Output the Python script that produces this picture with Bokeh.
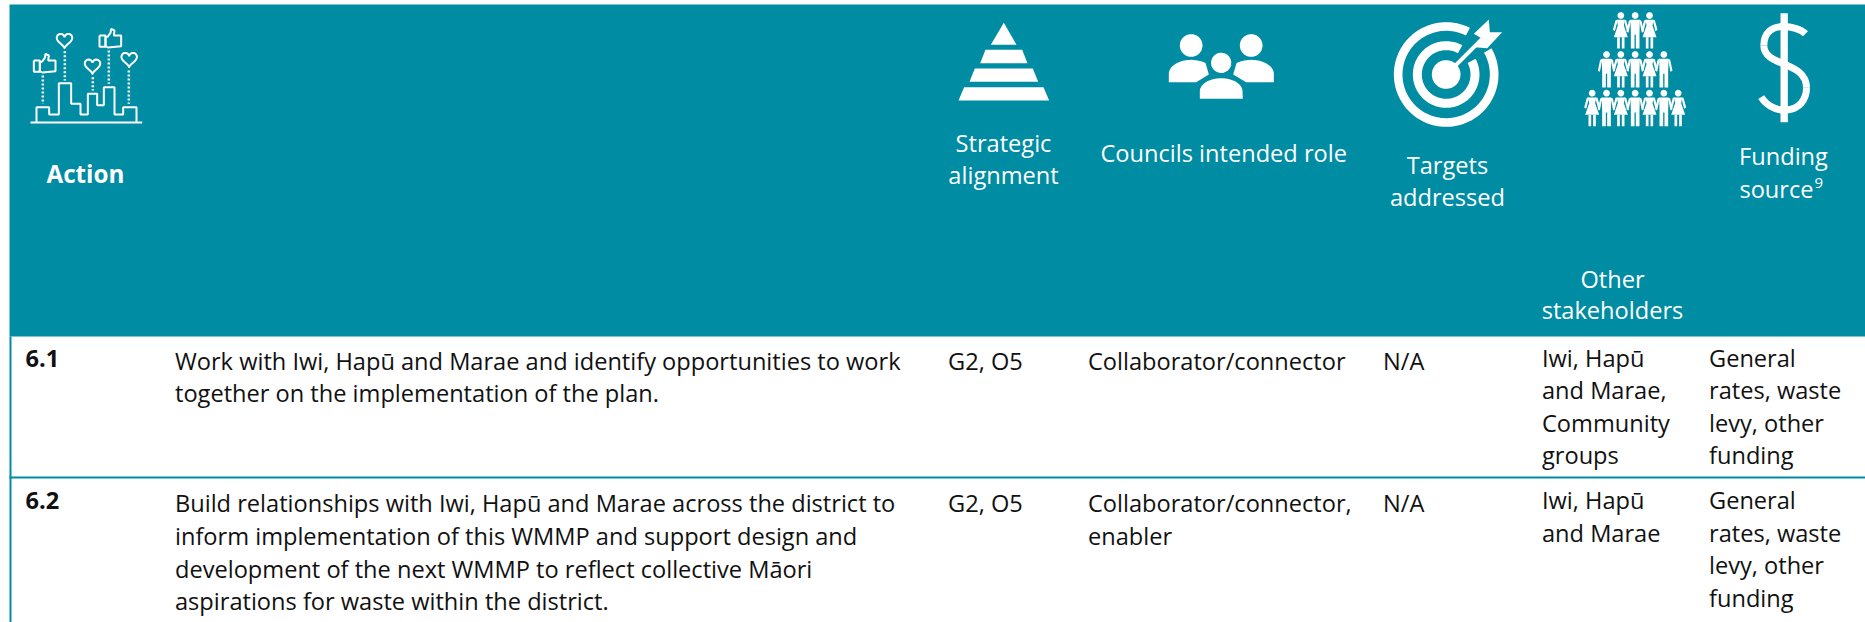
import numpy as np
from bokeh.plotting import figure
from bokeh.models import Range1d
from bokeh.embed import file_html
from bokeh.resources import INLINE
from bokeh.core.properties import value

TEAL = "#008CA3"
INK = "#111111"
FONT = "Open Sans"

actions = ["6.1", "6.2"]
action_lines = [
    ["Work with Iwi, Hapū and Marae and identify opportunities to work",
     "together on the implementation of the plan."],
    ["Build relationships with Iwi, Hapū and Marae across the district to",
     "inform implementation of this WMMP and support design and",
     "development of the next WMMP to reflect collective Māori",
     "aspirations for waste within the district."],
]
alignment = ["G2, O5", "G2, O5"]
roles = [["Collaborator/connector"], ["Collaborator/connector,", "enabler"]]
targets = ["N/A", "N/A"]
stakeholders = [["Iwi, Hapū", "and Marae,", "Community", "groups"], ["Iwi, Hapū", "and Marae"]]
funding = [["General", "rates, waste", "levy, other", "funding"], ["General", "rates, waste", "levy, other", "funding"]]

W, H = 1865, 622
p = figure(width=W, height=H, x_range=Range1d(0, W), y_range=Range1d(H, 0),
           output_backend="svg", toolbar_location=None, min_border=0,
           outline_line_color=None, background_fill_color="white")
p.axis.visible = False
p.grid.visible = False

BODY = 23.6


def txt(x, y, s, size=BODY, color=INK, align="left", bold=False):
    p.text([x], [y - 0.36 * size], text=[s], text_font=value(FONT), text_font_size=f"{size}px",
           text_color=color, text_align=align, text_baseline="alphabetic",
           text_font_style="bold" if bold else "normal")


# header band and rules
p.quad(left=[9], right=[W], top=[4], bottom=[336], fill_color=TEAL, line_color=None)
p.quad(left=[9], right=[11], top=[336], bottom=[H], fill_color=TEAL, line_color=None)
p.quad(left=[9], right=[W], top=[476], bottom=[478], fill_color=TEAL, line_color=None)

# header texts
txt(46, 182, "Action", bold=True, color="white", size=24.2)
for x, y, s in [(1003, 151, "Strategic"), (1003, 183, "alignment"),
                (1447, 173, "Targets"), (1447, 205, "addressed"),
                (1612, 287, "Other"), (1612, 318, "stakeholders"),
                (1783, 164, "Funding")]:
    txt(x, y, s, color="white", align="center")
txt(1100, 161, "Councils intended role", color="white")
txt(1813, 197, "source", color="white", align="right")
txt(1814, 188, "9", color="white", size=15)

# body
for base, num in zip([366, 508], actions):
    txt(25, base, num, bold=True)
for first, lines in zip([368.5, 511], action_lines):
    for i, s in enumerate(lines):
        txt(174.5, first + i * 32.8, s)
for base, a, r, t in zip([368.5, 511], alignment, roles, targets):
    txt(947.5, base, a)
    for i, s in enumerate(r):
        txt(1087.5, base + i * 32.8, s)
    txt(1382.5, base, t)
for base, st, fu in zip([365.5, 508], stakeholders, funding):
    for i, s in enumerate(st):
        txt(1541.5, base + i * 32.6, s)
    for i, s in enumerate(fu):
        txt(1708.5, base + i * 32.6, s)


# ---- pictograms: outlines are given in the crop coordinates of each icon
def Z(ox, oy, pts):
    a = np.array(pts, float)
    return ox + a[:, 0] / 3, oy + a[:, 1] / 3


def fill(ox, oy, pts, color="white", lc=None, lw=0):
    x, y = Z(ox, oy, pts)
    p.patch(x, y, fill_color=color, line_color=lc, line_width=lw)


def stroke(ox, oy, pts, lw=2, dash="solid", color="white"):
    x, y = Z(ox, oy, pts)
    p.line(x, y, line_color=color, line_width=lw, line_dash=dash)


def disc(ox, oy, cx, cy, r, color="white", lc=None, lw=0):
    t = np.linspace(0, 2 * np.pi, 60)
    fill(ox, oy, np.c_[cx + r * np.cos(t), cy + r * np.sin(t)], color, lc, lw)


def ring(ox, oy, cx, cy, r0, r1, a0, a1):
    t = np.radians(np.linspace(a0, a1, 120))
    o = np.c_[cx + r1 * np.cos(t), cy + r1 * np.sin(t)]
    i = np.c_[cx + r0 * np.cos(t[::-1]), cy + r0 * np.sin(t[::-1])]
    fill(ox, oy, np.r_[o, i])


def arc(cx, cy, a, b, t0, t1, n=24):
    t = np.radians(np.linspace(t0, t1, n))
    return [(cx + a * np.cos(v), cy - b * np.sin(v)) for v in t]


# Action icon
A = (0, 0)
stroke(*A, [(90, 366), (425, 366)], lw=2)
stroke(*A, [(108, 366), (108, 320), (146, 320), (146, 342), (175, 342), (175, 248), (212, 248),
            (212, 310), (240, 310), (240, 342), (262, 342), (262, 280), (290, 280), (290, 314),
            (310, 314), (310, 260), (342, 260), (342, 342), (368, 342), (368, 320), (408, 320),
            (408, 366)], lw=2)
for x, y0, y1 in [(127, 225, 310), (193, 152, 240), (277, 230, 270), (325, 150, 250), (385, 210, 310)]:
    stroke(*A, [(x, y0), (x, y1)], lw=2.5, dash="2 2")
for cx, cy in [(192, 118), (276, 195), (386, 175)]:
    t = np.linspace(0, 2 * np.pi, 50)
    hx = 1.55 * np.sin(t) ** 3
    hy = -(1.3 * np.cos(t) - 0.5 * np.cos(2 * t) - 0.2 * np.cos(3 * t) - 0.1 * np.cos(4 * t))
    stroke(*A, np.c_[cx + 15 * hx, cy + 15 * hy], lw=2)
thumb = np.array([(118, 185), (125, 183), (133, 172), (135, 160), (145, 165), (143, 180), (165, 180),
                  (165, 212), (125, 216), (118, 212), (118, 185)], float)
square = np.array([(100, 180), (118, 180), (118, 214), (100, 214), (100, 180)], float)
for dx, dy in [(0, 0), (197, -75)]:
    stroke(*A, thumb + (dx, dy), lw=2)
    stroke(*A, square + (dx, dy), lw=2)

# pyramid
B = (930, 0)
fill(*B, [(220, 67), (258, 133), (181, 133)])
for y0, y1, a, b in [(148, 188, 165, 149), (204, 244, 133, 117), (260, 300, 101, 84)]:
    fill(*B, [(a, y0), (440 - a, y0), (440 - b, y1), (b, y1)])

# three people
disc(*B, 782, 135, 34)
disc(*B, 962, 135, 34)
left_body = [(715, 245)] + arc(782, 220, 67, 42, 180, 50) + [(835, 222), (797, 245)]
right_body = [(1030, 245)] + arc(962, 220, 68, 42, 0, 130) + [(908, 222), (947, 245)]
fill(*B, left_body)
fill(*B, right_body)
disc(*B, 872, 187, 34, lc=TEAL, lw=2.5)
fill(*B, [(805, 298)] + arc(872, 272, 67, 42, 180, 0) + [(940, 298)], lc=TEAL, lw=2)

# target
C = (1380, 0)
ring(*C, 197, 222, 131, 157, -30, 297)
ring(*C, 197, 222, 73, 100, -28, 299)
disc(*C, 197, 222, 43)
stroke(*C, [(215, 205), (305, 115)], lw=4)
fill(*C, [(280, 100), (325, 57), (328, 95), (365, 95), (320, 143), (282, 140), (305, 115)])


# crowd
def person(cx, hy, female):
    disc(*C, cx, hy, 10)
    if female:
        fill(*C, [(cx - 12, hy + 13), (cx + 12, hy + 13), (cx + 9, hy + 30), (cx + 21, hy + 65), (cx - 21, hy + 65), (cx - 9, hy + 30)])
        for s in (-1, 1):
            fill(*C, [(cx + s * 3, hy + 65), (cx + s * 11, hy + 65), (cx + s * 11, hy + 99), (cx + s * 3, hy + 99)])
            fill(*C, [(cx + s * 9, hy + 13), (cx + s * 16, hy + 14), (cx + s * 24, hy + 43), (cx + s * 18, hy + 47)])
    else:
        fill(*C, [(cx - 14, hy + 13), (cx + 14, hy + 13), (cx + 13, hy + 55), (cx + 13, hy + 99), (cx + 2, hy + 99),
                  (cx + 2, hy + 58), (cx - 2, hy + 58), (cx - 2, hy + 99), (cx - 13, hy + 99), (cx - 13, hy + 55)])
        for s in (-1, 1):
            fill(*C, [(cx + s * 12, hy + 13), (cx + s * 19, hy + 16), (cx + s * 26, hy + 49), (cx + s * 20, hy + 52)])


for hy, xs, first_f in [(45, [721, 764, 807], True), (162, [678, 721, 764, 807, 850], False),
                        (278, [635, 678, 721, 764, 807, 850, 893], True)]:
    for i, x in enumerate(xs):
        person(x, hy, (i % 2 == 0) == first_f)

# dollar
fill(*C, [(1200, 38), (1222, 38), (1222, 365), (1200, 365)])
bez = [((1275, 100), (1250, 75), (1150, 55), (1150, 135)),
       ((1150, 135), (1150, 200), (1278, 180), (1278, 262)),
       ((1278, 262), (1278, 340), (1180, 350), (1142, 290))]
for a, c0, c1, b in bez:
    xa, ya = Z(*C, [a, c0, c1, b])
    p.bezier(x0=[xa[0]], y0=[ya[0]], cx0=[xa[1]], cy0=[ya[1]], cx1=[xa[2]], cy1=[ya[2]], x1=[xa[3]], y1=[ya[3]],
             line_color="white", line_width=7)

open("out.html", "w").write(file_html(p, INLINE))
